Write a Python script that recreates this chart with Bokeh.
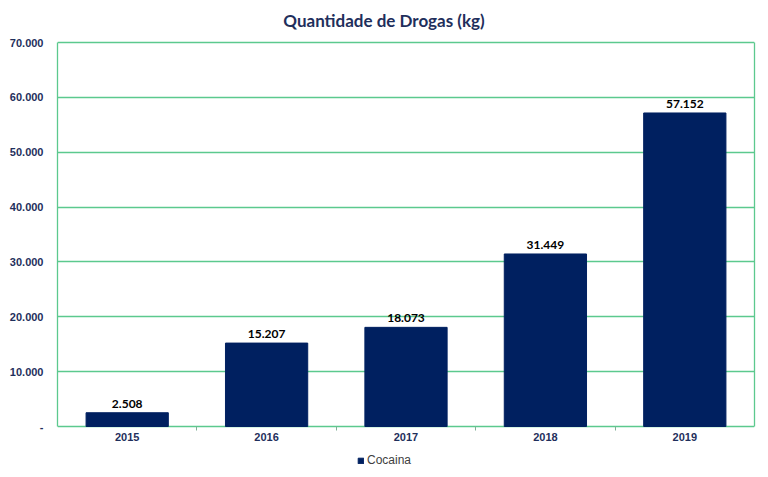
from bokeh.plotting import figure
from bokeh.models import (ColumnDataSource, FixedTicker, Legend, LegendItem,
                          Label, LinearAxis)
from bokeh.core.properties import value
from bokeh.embed import file_html
from bokeh.resources import INLINE

# ---- data ----
years = ["2015", "2016", "2017", "2018", "2019"]
cocaina = [2508, 15207, 18073, 31449, 57152]
y_ticks = [0, 10000, 20000, 30000, 40000, 50000, 60000, 70000]
y_tick_labels = ["-", "10.000", "20.000", "30.000", "40.000", "50.000", "60.000", "70.000"]
title_text = "Quantidade de Drogas (kg)"
series_name = "Cocaina"

NAVY = "#002060"
GREEN = "#5CC98E"
TXT = "#1F2F5C"

# ---- layout geometry (pixels) ----
FL, FW, FH = 57, 697, 472          # frame left, width, height (frame top at 0)
PTOP, PZERO = 42, 426              # pixel rows of 70.000 and 0
YMAX = y_ticks[-1]
upp = YMAX / (PZERO - PTOP)        # data units per pixel
y_start = -(FH - PZERO) * upp
y_end = YMAX + PTOP * upp
n = len(years)

def px_to_x(px):
    return -0.5 + (px - FL) / FW * n

def py_to_y(py):
    return YMAX + (PTOP - py) * upp

xs = list(range(n))
src = ColumnDataSource(dict(
    x=xs,
    y=cocaina,
    lab=[f"{v:,}".replace(",", ".") for v in cocaina],
))

p = figure(frame_width=FW, frame_height=FH, output_backend="svg", toolbar_location=None,
           title=None, x_range=(-0.5, n - 0.5), y_range=(y_start, y_end),
           min_border_left=FL, min_border_right=12, min_border_top=0,
           min_border_bottom=0)
p.outline_line_color = None
p.background_fill_color = "white"
p.border_fill_color = "white"

r = p.vbar(x="x", top="y", width=0.59, source=src, fill_color=NAVY, line_color=NAVY)

p.text(x="x", y="y", text="lab", source=src, text_align="center",
       text_baseline="bottom", y_offset=-5, text_font=value("Lato"),
       text_font_style="bold", text_font_size="12px", text_color="black")

# grid (top and bottom borders are the 70.000 and 0 gridlines)
p.xgrid.grid_line_color = None
p.ygrid.grid_line_color = GREEN
p.ygrid.grid_line_width = 1.3
p.ygrid.ticker = FixedTicker(ticks=y_ticks)

# y axis (left border line)
ya = p.yaxis[0]
ya.ticker = FixedTicker(ticks=y_ticks)
ya.bounds = (0, YMAX)
ya.major_label_overrides = {t: l for t, l in zip(y_ticks, y_tick_labels)}
ya.axis_line_color = GREEN
ya.axis_line_width = 1.3
ya.major_tick_line_color = None
ya.minor_tick_line_color = None
ya.major_tick_out = 0
ya.major_tick_in = 0
ya.major_label_standoff = 14
ya.major_label_text_font = "Liberation Sans"
ya.major_label_text_font_style = "bold"
ya.major_label_text_font_size = "11px"
ya.major_label_text_color = TXT

# right border line
ra = LinearAxis(ticker=FixedTicker(ticks=[]), bounds=(0, YMAX),
                axis_line_color=GREEN, axis_line_width=1.3,
                major_tick_line_color=None, minor_tick_line_color=None,
                major_label_text_color=None)
p.add_layout(ra, "right")

# x axis placed at y = 0
xa = p.xaxis[0]
xa.fixed_location = 0
bounds = [i + 0.5 for i in xs[:-1]]
xa.ticker = FixedTicker(ticks=xs, minor_ticks=bounds)
xa.major_label_overrides = {i: y for i, y in zip(xs, years)}
xa.axis_line_color = None
xa.major_tick_line_color = None
xa.major_tick_out = 0
xa.major_tick_in = 0
xa.minor_tick_line_color = "#7FAF95"
xa.minor_tick_out = 4
xa.minor_tick_in = 0
xa.major_label_standoff = 2
xa.major_label_text_font = "Liberation Sans"
xa.major_label_text_font_style = "bold"
xa.major_label_text_font_size = "11px"
xa.major_label_text_color = TXT

# title
p.add_layout(Label(x=px_to_x(383.5), y=py_to_y(20), text=title_text,
                   text_align="center", text_baseline="middle",
                   text_font="Lato", text_font_style="bold", text_font_size="17px",
                   text_color=TXT))

# legend (inside the frame area, below the x axis labels)
legend = Legend(items=[LegendItem(label=series_name, renderers=[r])],
                location=(300, FH - 467), orientation="horizontal",
                glyph_width=7, glyph_height=7, label_standoff=3, padding=0,
                margin=0, spacing=0, label_height=12,
                label_text_font="Liberation Sans", label_text_font_size="12px",
                label_text_color="#404040", border_line_color=None,
                background_fill_alpha=0)
p.add_layout(legend, "center")

open("out.html", "w").write(file_html(p, INLINE))
